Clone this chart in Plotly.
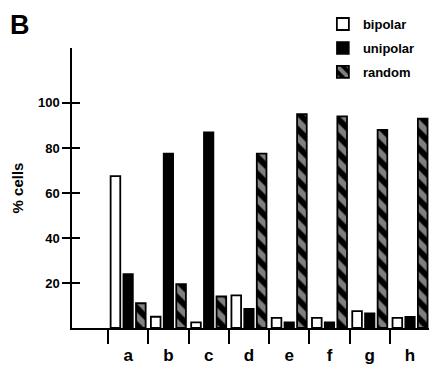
import plotly.graph_objects as go

categories = ["a", "b", "c", "d", "e", "f", "g", "h"]
bipolar = [67.5, 5, 2.5, 14.5, 4.5, 4.5, 7.5, 4.5]
unipolar = [24, 77.5, 87, 8.5, 2.5, 2.5, 6.5, 5]
random_ = [11, 19.5, 14, 77.5, 95, 94, 88, 93]
y_ticks = [20, 40, 60, 80, 100]

xpos = list(range(len(categories)))
boundaries = [i - 0.5 for i in range(len(categories) + 1)]

FONT = "Liberation Sans, Arial, sans-serif"

fig = go.Figure()
fig.add_trace(go.Bar(
    x=xpos, y=bipolar, name="bipolar", legendgroup="1",
    marker=dict(color="white", line=dict(color="black", width=1.8)),
))
fig.add_trace(go.Bar(
    x=xpos, y=unipolar, name="unipolar", legendgroup="2",
    marker=dict(color="black", line=dict(color="black", width=1.5)),
))
fig.add_trace(go.Bar(
    x=xpos, y=random_, name="random", legendgroup="3",
    marker=dict(color="black", line=dict(color="black", width=1.8),
                pattern=dict(shape="\\", fgcolor="white", bgcolor="black",
                             size=12, solidity=0.5)),
))
# invisible trace to anchor secondary axes
fig.add_trace(go.Scatter(x=[xpos[0]], y=[0], xaxis="x2", yaxis="y2",
                         mode="markers", marker=dict(opacity=0),
                         showlegend=False, hoverinfo="skip"))

xr = [-1.394, 7.62]
yr = [0, 124.4]

fig.update_layout(
    width=429, height=357,
    margin=dict(l=64, r=2, t=40, b=37, autoexpand=False),
    paper_bgcolor="white", plot_bgcolor="white",
    barmode="group", bargap=0.055, bargroupgap=0.24,
    font=dict(family=FONT, color="black"),
    showlegend=True,
    legend=dict(xref="container", yref="container", x=0.734, y=0.997,
                xanchor="left", yanchor="top",
                font=dict(size=13, family=FONT, color="black", weight="bold"),
                tracegroupgap=4, bgcolor="rgba(0,0,0,0)"),
    xaxis=dict(range=xr, tickmode="array", tickvals=boundaries, ticktext=[""] * len(boundaries),
               ticks="outside", ticklen=14, tickwidth=1.5, tickcolor="black",
               showline=True, linecolor="black", linewidth=1.5, automargin=False,
               showgrid=False, zeroline=False, fixedrange=True),
    xaxis2=dict(range=xr, overlaying="x", side="bottom", tickmode="array",
                tickvals=xpos, ticktext=categories, ticks="",
                ticklabelstandoff=15, automargin=False,
                tickfont=dict(size=17, family=FONT, color="black", weight="bold"),
                showline=False, showgrid=False, zeroline=False, anchor="y"),
    yaxis=dict(range=yr, tickmode="array", tickvals=y_ticks,
               ticks="outside", ticklen=8, tickwidth=1.5, tickcolor="black",
               tickfont=dict(size=13, family=FONT, color="black", weight="bold"),
               showline=True, linecolor="black", linewidth=1.5, automargin=False,
               showgrid=False, zeroline=False,
               title=dict(text="% cells", standoff=11,
                          font=dict(size=15, family=FONT, color="black", weight="bold"))),
    yaxis2=dict(range=yr, overlaying="y", side="left", tickmode="array", tickvals=y_ticks,
                ticktext=[""] * len(y_ticks), automargin=False,
                ticks="inside", ticklen=8, tickwidth=1.5, tickcolor="black",
                showline=False, showgrid=False, zeroline=False, anchor="x"),
    annotations=[dict(text="B", xref="paper", yref="paper", x=-0.176, y=1.082,
                      xanchor="left", yanchor="middle", showarrow=False,
                      font=dict(size=27, family=FONT, color="black", weight="bold"))],
)

fig.write_html("out.html")
